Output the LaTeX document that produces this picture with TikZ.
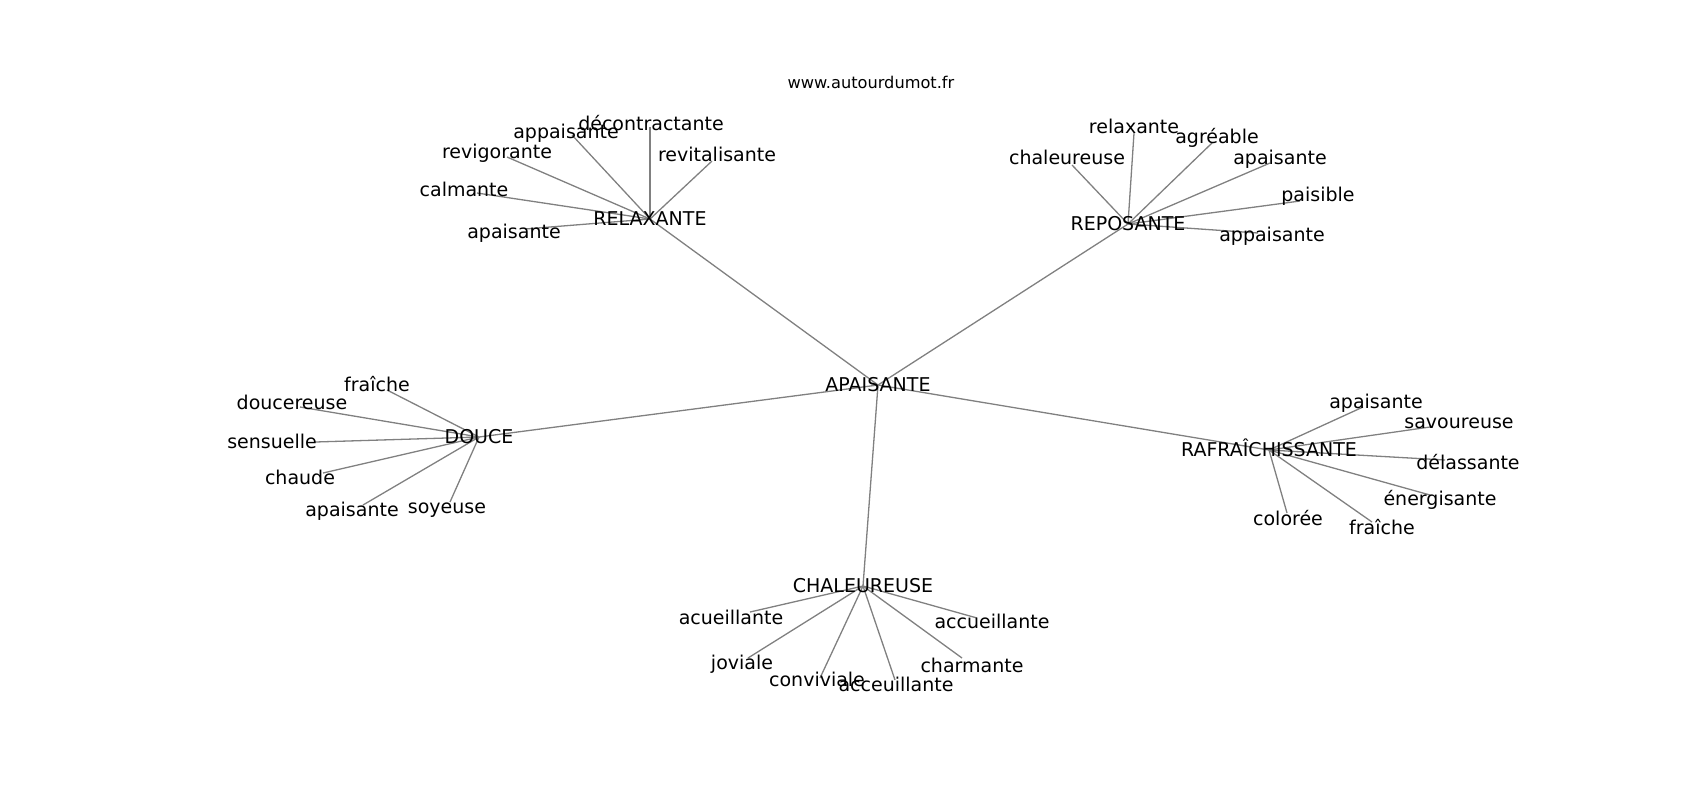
\documentclass[tikz,border=0pt]{standalone}
\usepackage{fontspec}
\setmainfont{DejaVu Sans}
\usepackage{tikz}
\pgfdeclarelayer{background}
\pgfsetlayers{background, main}
\tikzstyle{word} = [inner sep=0pt, text height=6.9pt, text depth=0pt, font=\fontsize{9.5}{11}\selectfont]
\tikzstyle{site} = [inner sep=0pt, text height=5.8pt, text depth=0pt, font=\fontsize{8.1}{10}\selectfont]
\tikzstyle{link} = [draw=gray, line width=0.65pt]

\begin{document}
\begin{tikzpicture}[x=0.5pt, y=-0.5pt]
  \useasboundingbox (0, 0) rectangle (1700, 800);

  \node[site] at (871, 83) (site) {www.autourdumot.fr};

  % hubs
  \node[word] at (878, 385) (apaisante) {APAISANTE};
  \node[word] at (650, 219) (relaxante) {RELAXANTE};
  \node[word] at (1128, 224) (reposante) {REPOSANTE};
  \node[word] at (479, 437) (douce) {DOUCE};
  \node[word] at (1269, 450) (rafraichissante) {RAFRAÎCHISSANTE};
  \node[word] at (863, 586) (chaleureuse) {CHALEUREUSE};

  % RELAXANTE
  \coordinate (r1) at (650, 127);  \node[word] at (651, 124) (r1t) {décontractante};
  \coordinate (r2) at (572, 135);  \node[word] at (566, 132) (r2t) {appaisante};
  \coordinate (r3) at (507, 157);  \node[word] at (497, 152) (r3t) {revigorante};
  \coordinate (r4) at (477, 193);  \node[word] at (464, 190) (r4t) {calmante};
  \coordinate (r5) at (525, 229);  \node[word] at (514, 232) (r5t) {apaisante};
  \coordinate (r6) at (712, 161);  \node[word] at (717, 155) (r6t) {revitalisante};

  % REPOSANTE
  \coordinate (p1) at (1134, 133); \node[word] at (1134, 127) (p1t) {relaxante};
  \coordinate (p2) at (1212, 143); \node[word] at (1217, 137) (p2t) {agréable};
  \coordinate (p3) at (1072, 165); \node[word] at (1067, 158) (p3t) {chaleureuse};
  \coordinate (p4) at (1270, 163); \node[word] at (1280, 158) (p4t) {apaisante};
  \coordinate (p5) at (1300, 201); \node[word] at (1318, 195) (p5t) {paisible};
  \coordinate (p6) at (1258, 233); \node[word] at (1272, 235) (p6t) {appaisante};

  % DOUCE
  \coordinate (d1) at (387, 390);  \node[word] at (377, 385) (d1t) {fraîche};
  \coordinate (d2) at (300, 407);  \node[word] at (292, 403) (d2t) {doucereuse};
  \coordinate (d3) at (315, 442);  \node[word] at (272, 442) (d3t) {sensuelle};
  \coordinate (d4) at (323, 473);  \node[word] at (300, 478) (d4t) {chaude};
  \coordinate (d5) at (363, 505);  \node[word] at (352, 510) (d5t) {apaisante};
  \coordinate (d6) at (450, 502);  \node[word] at (447, 507) (d6t) {soyeuse};

  % RAFRAICHISSANTE
  \coordinate (f1) at (1363, 407); \node[word] at (1376, 402) (f1t) {apaisante};
  \coordinate (f2) at (1430, 427); \node[word] at (1459, 422) (f2t) {savoureuse};
  \coordinate (f3) at (1445, 460); \node[word] at (1468, 463) (f3t) {délassante};
  \coordinate (f4) at (1430, 495); \node[word] at (1440, 499) (f4t) {énergisante};
  \coordinate (f5) at (1372, 522); \node[word] at (1382, 528) (f5t) {fraîche};
  \coordinate (f6) at (1287, 513); \node[word] at (1288, 519) (f6t) {colorée};

  % CHALEUREUSE
  \coordinate (c1) at (750, 612);  \node[word] at (731, 618) (c1t) {acueillante};
  \coordinate (c2) at (748, 658);  \node[word] at (742, 663) (c2t) {joviale};
  \coordinate (c3) at (820, 678);  \node[word] at (817, 680) (c3t) {conviviale};
  \coordinate (c4) at (895, 680);  \node[word] at (896, 685) (c4t) {acceuillante};
  \coordinate (c5) at (962, 658);  \node[word] at (972, 666) (c5t) {charmante};
  \coordinate (c6) at (977, 618);  \node[word] at (992, 622) (c6t) {accueillante};

  \begin{pgfonlayer}{background}
    \draw[link] (apaisante.center) -- (relaxante.center);
    \draw[link] (apaisante.center) -- (reposante.center);
    \draw[link] (apaisante.center) -- (douce.center);
    \draw[link] (apaisante.center) -- (rafraichissante.center);
    \draw[link] (apaisante.center) -- (chaleureuse.center);
    \foreach \n in {1, ..., 6} {
      \draw[link] (relaxante.center) -- (r\n);
      \draw[link] (reposante.center) -- (p\n);
      \draw[link] (douce.center) -- (d\n);
      \draw[link] (rafraichissante.center) -- (f\n);
      \draw[link] (chaleureuse.center) -- (c\n);
    }
  \end{pgfonlayer}

\end{tikzpicture}
\end{document}
